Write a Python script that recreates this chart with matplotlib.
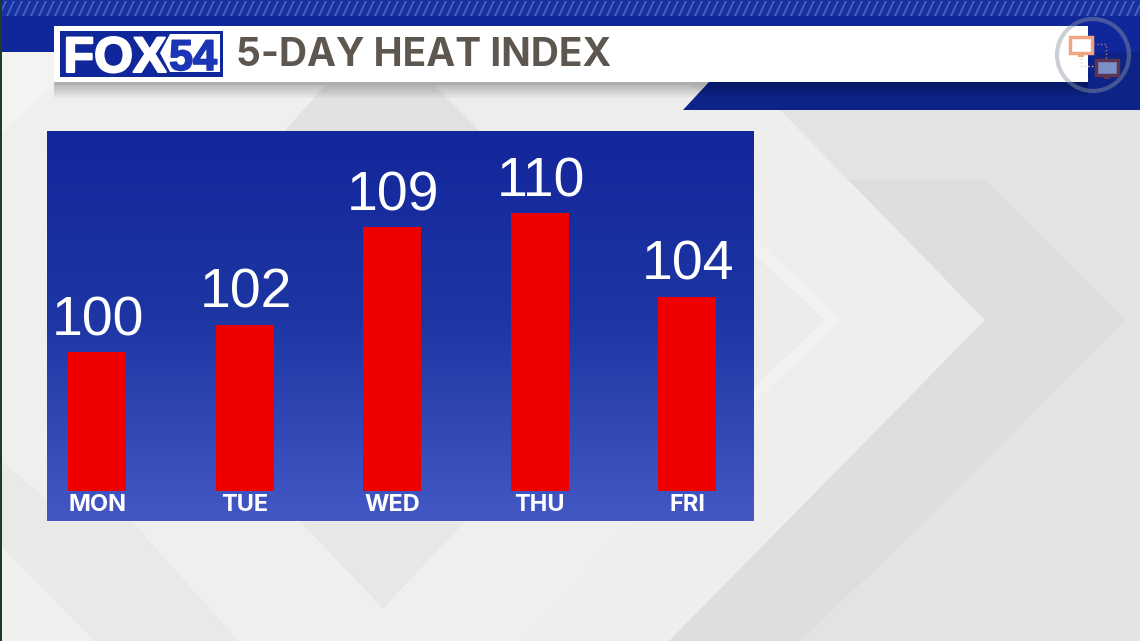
import numpy as np
import matplotlib
matplotlib.use("Agg")
import matplotlib.pyplot as plt
import matplotlib.patheffects as pe
from matplotlib.colors import LinearSegmentedColormap
from matplotlib.patches import Polygon, Rectangle, Circle

days = ["MON", "TUE", "WED", "THU", "FRI"]
heat_index = [100, 102, 109, 110, 104]

W, H = 1140, 641

fig = plt.figure(figsize=(W / 100, H / 100), dpi=100)

# whole figure in pixel coords for the backdrop and banner
bg = fig.add_axes([0, 0, 1, 1])
bg.set_xlim(0, W)
bg.set_ylim(H, 0)
bg.axis("off")
bg.add_patch(Rectangle((0, 0), W, H, color="#e3e3e1", zorder=0))


def shape(pts, color, z=1):
    bg.add_patch(Polygon(pts, closed=True, facecolor=color, edgecolor="none", zorder=z))


# chevrons in the backdrop, back to front
shape([(985, 180), (1125, 320), (927, 520), (800, 641), (669, 641), (985, 320), (845, 180)], "#dededc")
shape([(440, 85), (780, 110), (985, 320), (669, 641), (524, 641), (635, 521), (753, 400), (753, 240)], "#eeeeec")
shape([(753, 237), (840, 320), (753, 403)], "#f2f2f0", 2)
shape([(753, 253), (825, 320), (753, 388)], "#ebebe9", 3)
shape([(524, 641), (635, 521), (465, 521), (383, 608), (300, 521), (131, 521), (238, 641)], "#efefed")
shape([(300, 521), (465, 521), (383, 608)], "#e7e7e5")
shape([(0, 460), (47, 500), (47, 521), (131, 521), (238, 641), (95, 641), (0, 545)], "#e9e9e7")
shape([(0, 545), (95, 641), (0, 641)], "#f0f0ee")
shape([(0, 85), (326, 85), (285, 131), (47, 131), (47, 500), (0, 460)], "#efefed")
shape([(0, 52), (55, 52), (55, 85), (0, 135)], "#f3f3f1")
shape([(326, 85), (434, 85), (480, 131), (285, 131)], "#e2e2e0")
shape([(434, 85), (690, 85), (760, 131), (480, 131)], "#ededeb")

# blue strip on top
shape([(0, 0), (W, 0), (W, 52), (0, 52)], "#10279b", 4)
shape([(0, 0), (W, 0), (W, 16), (0, 16)], "#17319f", 4)
for x in range(-10, W + 10, 8):
    shape([(x, 16), (x + 2, 16), (x + 9, 1), (x + 7, 1)], "#4a62c2", 5)
shape([(683, 110), (709, 82), (W, 82), (W, 110)], "#0e2387", 4)
shape([(1088, 52), (W, 52), (W, 110), (1088, 110)], "#0e2387", 4)
shape([(0, 0), (2, 0), (2, 641), (0, 641)], "#1d3b2c", 6)

# white banner with soft shadow
for i in range(10):
    d = 16 - i * 1.5
    shape([(54, 82), (1088, 82), (1088, 82 + d), (54, 82 + d)], (0, 0, 0, 0.025), 4)
shape([(54, 26), (1088, 26), (1088, 82), (54, 82)], "white", 7)

# logo
shape([(60, 31), (223, 31), (223, 77), (60, 77)], "#10279b", 8)
shape([(170, 34), (220, 34), (220, 72), (170, 72), (160, 53)], "white", 9)
bg.text(115, 72, "FOX", family="Liberation Sans", weight="bold", fontsize=36, color="white",
        ha="center", va="baseline", zorder=10,
        path_effects=[pe.withStroke(linewidth=1.5, foreground="white")])
bg.text(193, 70, "54", family="Liberation Sans", weight="bold", fontsize=31, color="#1a35b5",
        ha="center", va="baseline", zorder=11,
        path_effects=[pe.withStroke(linewidth=1.2, foreground="#1a35b5")])

bg.text(236, 66, "5-DAY HEAT INDEX", family="Inter", weight="bold", fontsize=28,
        color="#5e574f", ha="left", va="baseline", zorder=10)

# remote camera icon top right
bg.add_patch(Circle((1093, 55), 36, facecolor="none", edgecolor="#8b96a3", alpha=0.45, lw=3, zorder=10))
bg.add_patch(Rectangle((1070, 37), 22, 16, facecolor="white", edgecolor="#f2a585", lw=2.5, zorder=11))
bg.add_patch(Rectangle((1096, 60), 22, 15, facecolor="#7b8fc8", edgecolor="#5d3550", lw=2.5, zorder=11))
bg.add_patch(Rectangle((1078, 54), 6, 3, facecolor="#f2a585", edgecolor="none", zorder=11))
bg.add_patch(Rectangle((1104, 76), 6, 3, facecolor="#5d3550", edgecolor="none", zorder=11))
bg.plot([1081, 1081, 1095], [58, 66, 66], ls=":", color="#f2c0a8", lw=1, zorder=11)
bg.plot([1093, 1106, 1106], [44, 44, 59], ls=":", color="#b07a70", lw=1, zorder=11)

# chart panel, 47-753 by 131-521 px
ax = fig.add_axes([47 / W, 1 - 521 / H, 706 / W, 390 / H])
ax.set_xlim(-0.339, 4.447)
ax.set_ylim(87.87, 115.93)
ax.axis("off")

grad = np.linspace(0, 1, 256).reshape(-1, 1)
cmap = LinearSegmentedColormap.from_list("panel", ["#13269a", "#1e37a4", "#4458c4"])
ax.imshow(grad, extent=[-0.339, 4.447, 87.87, 115.93], aspect="auto", cmap=cmap, zorder=0)

x = np.arange(len(days))
ax.bar(x, np.array(heat_index) - 90, bottom=90, width=0.393, color="#ee0000", zorder=2)

for i, v in enumerate(heat_index):
    ax.text(i + 0.008, v + 1.22, str(v), family="Liberation Sans", fontsize=40, color="white",
            ha="center", va="baseline", zorder=3)
    ax.text(i, 88.56, days[i], family="Inter", weight="bold", fontsize=17, color="white",
            ha="center", va="baseline", zorder=3)

fig.savefig("out.png", dpi=100)
